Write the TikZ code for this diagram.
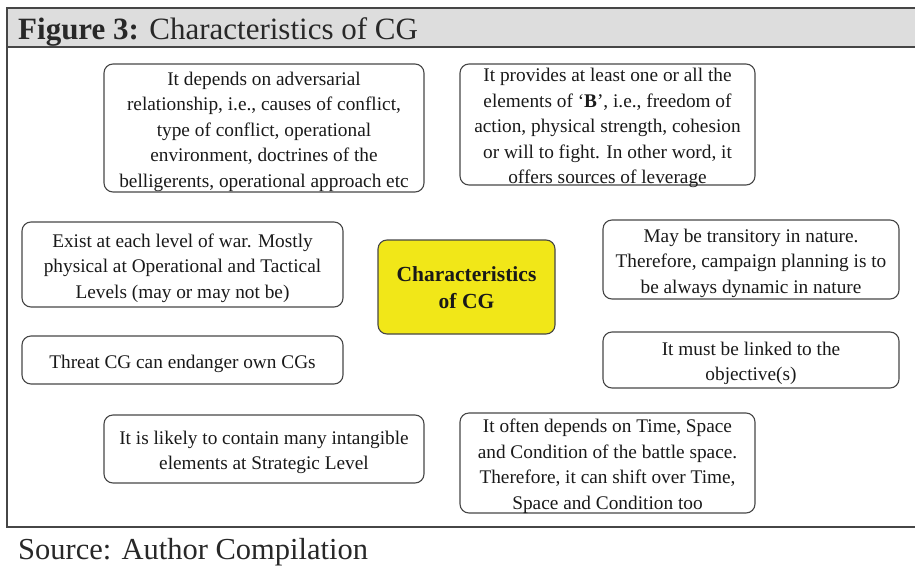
\documentclass[tikz,border=0pt]{standalone}
\usepackage{fontspec}
\setmainfont{Liberation Serif}
\definecolor{headgray}{RGB}{221,221,221}
\definecolor{framegray}{RGB}{70,70,70}
\definecolor{inkgray}{RGB}{40,40,40}
\definecolor{cgyellow}{RGB}{241,231,24}
% centred lines on a regular baseline grid, set a little below the box centre;
% the declared size is tiny so the box outline keeps its own dimensions
\newcommand\cardlines[1]{\raisebox{0pt}%
  [\dimexpr(\height-\depth)/2+11pt\relax][\dimexpr(\depth-\height)/2\relax]{%
  \begin{tabular}{@{}c@{}}#1\end{tabular}}}
\begin{document}
\begin{tikzpicture}[x=1pt,y=-1pt,
  card/.style={draw=framegray, line width=1.1pt, rounded corners=9pt,
    inner sep=0pt, text=black!90,
    font=\fontsize{19.3}{25.5}\selectfont},
  hub/.style={card, fill=cgyellow, font=\fontsize{21.5}{27}\selectfont\bfseries},
  caption/.style={anchor=base west, inner sep=0pt, text=inkgray}]
\useasboundingbox (0,0) rectangle (915,565);

% frame with grey title band
\fill[headgray] (7,8) rectangle (916,47);
\draw[framegray, line width=1.6pt] (916,8) -- (7,8) -- (7,527) -- (916,527);
\draw[framegray, line width=1.6pt] (7,47) -- (916,47);
\node[caption, font=\fontsize{31}{34}\selectfont] (title) at (18,39)
  {\textbf{Figure 3:} Characteristics of CG};
\node[caption, font=\fontsize{30.5}{34}\selectfont] (source) at (18,559)
  {Source: Author Compilation};

% central node
\node[hub, minimum width=177, minimum height=94] (cg) at (466.5,287)
  {\cardlines{Characteristics\\of CG}};

% surrounding characteristics
\node[card, minimum width=320, minimum height=128] (depends) at (264,128)
  {\cardlines{It depends on adversarial\\relationship, i.e., causes of conflict,\\type of conflict, operational\\environment, doctrines of the\\belligerents, operational approach etc}};
\node[card, minimum width=295, minimum height=121] (provides) at (607.5,124.5)
  {\cardlines{It provides at least one or all the\\elements of `\textbf{B}', i.e., freedom of\\action, physical strength, cohesion\\or will to fight. In other word, it\\offers sources of leverage}};
\node[card, minimum width=321, minimum height=85] (levels) at (182.5,264.5)
  {\cardlines{Exist at each level of war. Mostly\\physical at Operational and Tactical\\Levels (may or may not be)}};
\node[card, minimum width=321, minimum height=48] (threat) at (182.5,360)
  {\cardlines{Threat CG can endanger own CGs}};
\node[card, minimum width=296, minimum height=79] (transitory) at (751,259.5)
  {\cardlines{May be transitory in nature.\\Therefore, campaign planning is to\\be always dynamic in nature}};
\node[card, minimum width=296, minimum height=56] (objective) at (751,360)
  {\cardlines{It must be linked to the\\objective(s)}};
\node[card, minimum width=320, minimum height=68] (intangible) at (264,449)
  {\cardlines{It is likely to contain many intangible\\elements at Strategic Level}};
\node[card, minimum width=295, minimum height=100] (timespace) at (607.5,463)
  {\cardlines{It often depends on Time, Space\\and Condition of the battle space.\\Therefore, it can shift over Time,\\Space and Condition too}};
\end{tikzpicture}
\end{document}
